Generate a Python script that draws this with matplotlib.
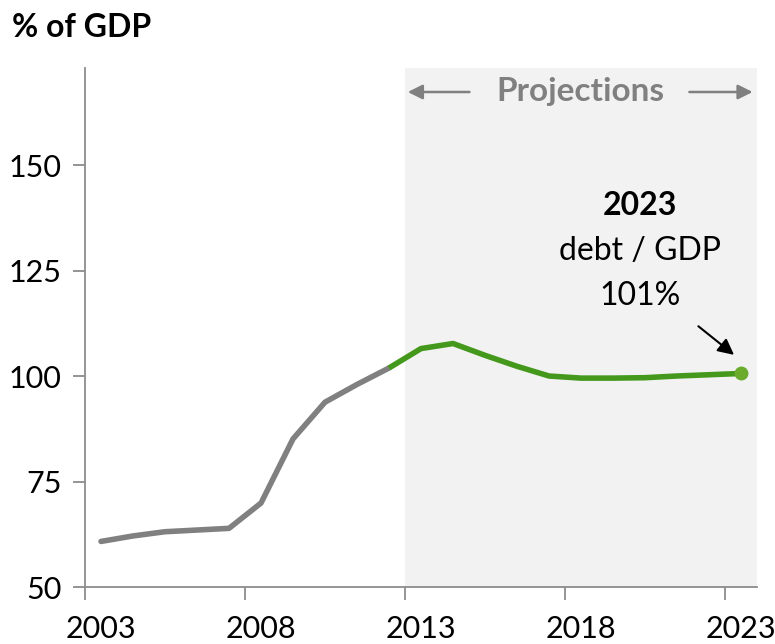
import numpy as np
import matplotlib.pyplot as plt

plt.rcParams['font.family'] = ['Lato', 'DejaVu Sans']

years = list(range(2003, 2024))
debt = [60.8, 62.1, 63.1, 63.5, 63.9, 69.9, 85.1, 93.8, 98.0, 101.9,
        106.5, 107.7, 104.9, 102.3, 100.0, 99.5, 99.5, 99.6, 100.0, 100.3, 100.6]
hist_end = 2012
tick_years = [2003, 2008, 2013, 2018, 2023]
y_ticks = [50, 75, 100, 125, 150]

gray = '#808080'
green = '#44991c'
axis_col = '#8c8c8c'

fig = plt.figure(figsize=(7.75, 6.44), dpi=100)
ax = fig.add_axes([0.1097, 0.0885, 0.8671, 0.806])

ax.axvspan(2012.5, 2023.5, color='#f2f2f2', zorder=0, lw=0)

yrs = np.array(years)
vals = np.array(debt)
hist = yrs <= hist_end
proj = yrs >= hist_end
ax.plot(yrs[hist], vals[hist], color=gray, lw=4.0, solid_capstyle='round', zorder=3)
ax.plot(yrs[proj], vals[proj], color=green, lw=4.0, solid_capstyle='butt', zorder=3)
ax.plot(yrs[-1], vals[-1], 'o', color='#6aaa2c', ms=9, zorder=4)

ax.set_xlim(2002.5, 2023.5)
ax.set_ylim(50, 173)

ax.set_xticks(tick_years)
ax.set_xticklabels([str(y) for y in tick_years])
ax.set_xticks([y - 0.5 for y in tick_years], minor=True)
ax.tick_params(axis='x', which='major', length=0, pad=20, labelsize=22)
ax.tick_params(axis='x', which='minor', length=9, width=1.3, color=axis_col)
ax.set_yticks(y_ticks)
ax.tick_params(axis='y', length=9, width=1.3, color=axis_col, labelsize=22, pad=8)

for s in ['top', 'right']:
    ax.spines[s].set_visible(False)
for s in ['left', 'bottom']:
    ax.spines[s].set_color(axis_col)
    ax.spines[s].set_linewidth(1.3)

fig.text(0.015, 0.958, '% of GDP', fontsize=23, fontweight='bold', va='center', ha='left')

# Projections label with arrows
ax.text(2017.98, 167.3, 'Projections', fontsize=24, fontweight='bold', color=gray,
        ha='center', va='center')
ax.annotate('', xy=(2012.5, 167.3), xytext=(2014.6, 167.3),
            arrowprops=dict(arrowstyle='-|>', color=gray, lw=1.8, mutation_scale=22))
ax.annotate('', xy=(2023.45, 167.3), xytext=(2021.3, 167.3),
            arrowprops=dict(arrowstyle='-|>', color=gray, lw=1.8, mutation_scale=22))

# end-point annotation
ax.text(2019.84, 140.3, '2023', fontsize=23, fontweight='bold', ha='center', va='center')
ax.text(2019.84, 129.6, 'debt / GDP', fontsize=23, ha='center', va='center')
ax.text(2019.84, 118.9, '101%', fontsize=23, ha='center', va='center')
ax.annotate('', xy=(2022.85, 104.6), xytext=(2021.6, 112.2),
            arrowprops=dict(arrowstyle='-|>', color='black', lw=1.5, mutation_scale=24))

fig.savefig('out.png', dpi=100)
